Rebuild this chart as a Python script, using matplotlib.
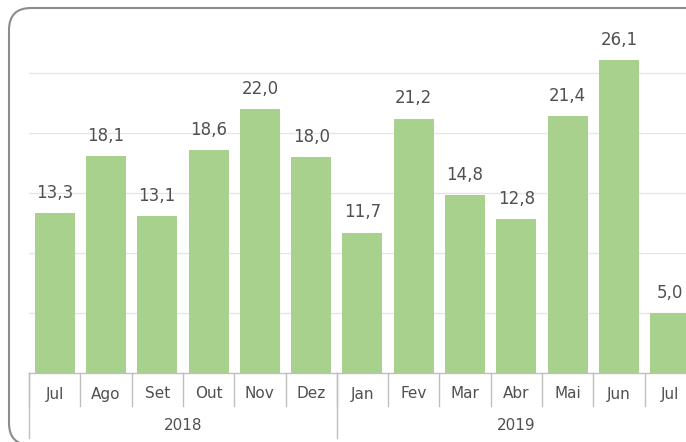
import matplotlib
matplotlib.use("Agg")
import matplotlib.pyplot as plt
import matplotlib.transforms as mtransforms
from matplotlib.patches import FancyBboxPatch

# data
months = ["Jul", "Ago", "Set", "Out", "Nov", "Dez",
          "Jan", "Fev", "Mar", "Abr", "Mai", "Jun", "Jul"]
values = [13.3, 18.1, 13.1, 18.6, 22.0, 18.0,
          11.7, 21.2, 14.8, 12.8, 21.4, 26.1, 5.0]
years = ["2018", "2019"]
year_sizes = [6, 7]

bar_color = "#A9D18E"
text_color = "#505050"
line_color = "#BFBFBF"

fig = plt.figure(figsize=(6.86, 4.42), dpi=100)
# axes runs past the right edge, like the cropped original
ax = fig.add_axes([29 / 686, 69 / 442, 13 * 51.3 / 686, 348 / 442])

x = list(range(len(months)))
bars = ax.bar(x, values, width=0.78, color=bar_color, zorder=2)

for xi, v in zip(x, values):
    ax.annotate(f"{v:.1f}".replace(".", ","), (xi, v), xytext=(0, 8),
                textcoords="offset points", ha="center", va="bottom",
                fontsize=12, color=text_color)

ax.set_xlim(-0.5, len(months) - 0.5)
ax.set_ylim(0, 29)
ax.set_yticks([5, 10, 15, 20, 25])
ax.yaxis.grid(True, color="#E6E6E6", lw=1, zorder=0)
ax.tick_params(left=False, labelleft=False, bottom=False, labelbottom=False)
for s in ["top", "right", "left"]:
    ax.spines[s].set_visible(False)
ax.spines["bottom"].set_color(line_color)
ax.spines["bottom"].set_linewidth(1)

# two-level category axis
trans = mtransforms.blended_transform_factory(ax.transData, fig.transFigure)
y_axis = 69 / 442
y_month_end = 36 / 442
y_year_end = 4 / 442

for i in range(len(months) + 1):
    ax.plot([i - 0.5, i - 0.5], [y_axis, y_month_end], transform=trans,
            color=line_color, lw=1, clip_on=False)
for xi, m in zip(x, months):
    ax.text(xi, 48 / 442, m, transform=trans, ha="center", va="center",
            fontsize=11, color=text_color)

start = 0
for yr, n in zip(years, year_sizes):
    ax.plot([start - 0.5, start - 0.5], [y_axis, y_year_end], transform=trans,
            color=line_color, lw=1, clip_on=False)
    ax.text(start + (n - 1) / 2, 17 / 442, yr, transform=trans,
            ha="center", va="center", fontsize=11, color=text_color)
    start += n

# rounded chart border, cut off at right and bottom
border = FancyBboxPatch((9, -3), 720, 437, boxstyle="round,pad=0,rounding_size=22",
                        transform=None, fill=False, edgecolor="#8C8C8C", lw=1.5)
fig.patches.append(border)

fig.savefig("out.png", dpi=100)
